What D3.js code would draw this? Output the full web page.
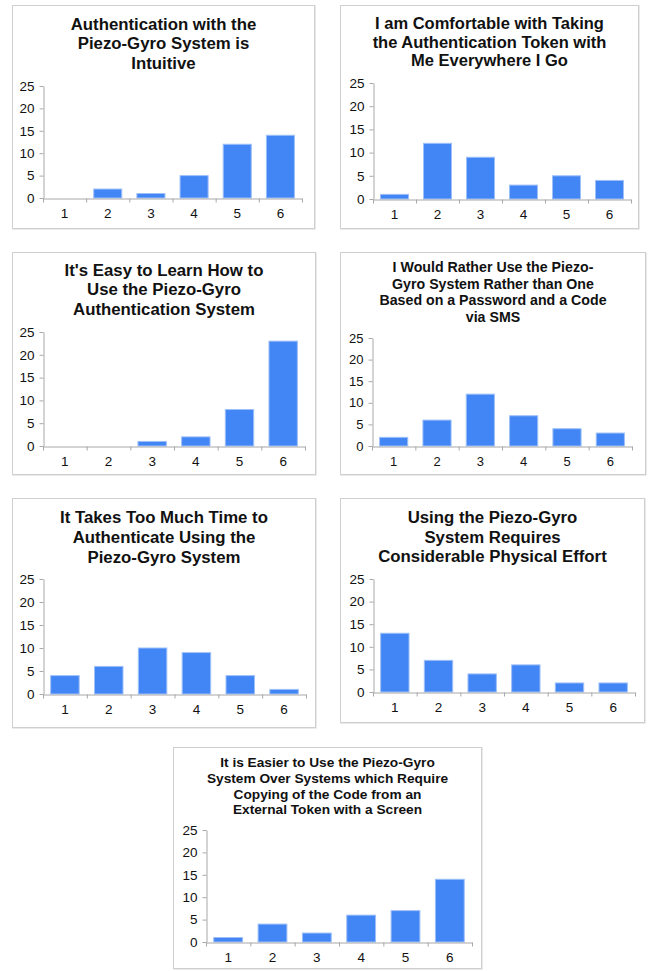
<!DOCTYPE html>
<html>
<head>
<meta charset="utf-8">
<script src="https://cdn.jsdelivr.net/npm/d3@7/dist/d3.min.js"></script>
<style>
  html, body { margin: 0; padding: 0; background: #fff; }
  svg { display: block; }
  text { font-family: "Liberation Sans", Arial, sans-serif; fill: #111; }
</style>
</head>
<body>
<svg id="chart" width="648" height="971"></svg>
<script>
// Likert responses (1–6) for each survey statement
const categories = ["1", "2", "3", "4", "5", "6"];
const yTicks = [0, 5, 10, 15, 20, 25];

const titleIntuitive = ["Authentication with the", "Piezo-Gyro System is", "Intuitive"];
const valuesIntuitive = [0, 2, 1, 5, 12, 14];

const titleToken = ["I am Comfortable with Taking", "the Authentication Token with", "Me Everywhere I Go"];
const valuesToken = [1, 12, 9, 3, 5, 4];

const titleLearn = ["It's Easy to Learn How to", "Use the Piezo-Gyro", "Authentication System"];
const valuesLearn = [0, 0, 1, 2, 8, 23];

const titleSms = ["I Would Rather Use the Piezo-", "Gyro System Rather than One", "Based on a Password and a Code", "via SMS"];
const valuesSms = [2, 6, 12, 7, 4, 3];

const titleTime = ["It Takes Too Much Time to", "Authenticate Using the", "Piezo-Gyro System"];
const valuesTime = [4, 6, 10, 9, 4, 1];

const titleEffort = ["Using the Piezo-Gyro", "System Requires", "Considerable Physical Effort"];
const valuesEffort = [13, 7, 4, 6, 2, 2];

const titleScreen = ["It is Easier to Use the Piezo-Gyro", "System Over Systems which Require", "Copying of the Code from an", "External Token with a Screen"];
const valuesScreen = [1, 4, 2, 6, 7, 14];

// Panel layout: frame box, plot area, title baselines and type sizes
const panels = [
  { title: titleIntuitive, values: valuesIntuitive, box: [12, 5, 314, 228],  plot: [43, 302, 86, 198],  lines: [30, 49.3, 68.5],  tSize: 16.8, tickSize: 13.5 },
  { title: titleToken,     values: valuesToken,     box: [340, 5, 638, 228], plot: [373, 631, 83, 199], lines: [29, 47.7, 66],    tSize: 16.5, tickSize: 13.5 },
  { title: titleLearn,     values: valuesLearn,     box: [12, 252, 315, 474], plot: [43, 305, 332, 446], lines: [275.7, 295, 314.7], tSize: 16.8, tickSize: 13.5 },
  { title: titleSms,       values: valuesSms,       box: [340, 252, 645, 474], plot: [372, 632, 338, 446], lines: [272.3, 289, 305.3, 321.5], tSize: 14.2, tickSize: 13 },
  { title: titleTime,      values: valuesTime,      box: [12, 498, 315, 727], plot: [43, 306, 579, 694], lines: [523.3, 543.3, 562.7], tSize: 16.8, tickSize: 13.5 },
  { title: titleEffort,    values: valuesEffort,    box: [340, 498, 644, 722], plot: [373, 635, 579, 692], lines: [523.3, 542.7, 561.7], tSize: 16.8, tickSize: 13.5 },
  { title: titleScreen,    values: valuesScreen,    box: [173, 747, 481, 968], plot: [206, 472, 830, 942], lines: [767.3, 783, 798.7, 814.3], tSize: 13.7, tickSize: 13.5 }
];

const svg = d3.select("#chart");
const axisColor = "#a8a8a8";

panels.forEach(p => {
  const g = svg.append("g");
  const [bx0, by0, bx1, by1] = p.box;
  const [px0, px1, pyTop, pyZero] = p.plot;

  // frame with soft drop shadow on right and bottom
  g.append("rect")
    .attr("x", bx0 + 1).attr("y", by0 + 1)
    .attr("width", bx1 - bx0).attr("height", by1 - by0)
    .attr("fill", "none").attr("stroke", "#e4e4e4").attr("stroke-width", 1.5);
  g.append("rect")
    .attr("x", bx0 + 0.5).attr("y", by0 + 0.5)
    .attr("width", bx1 - bx0).attr("height", by1 - by0)
    .attr("fill", "#fff").attr("stroke", "#cfcfcf").attr("stroke-width", 1);

  // title
  const title = g.append("text")
    .attr("text-anchor", "middle")
    .attr("font-weight", "bold")
    .attr("font-size", p.tSize)
    .attr("fill", "#000");
  p.title.forEach((line, i) => {
    title.append("tspan")
      .attr("x", (bx0 + bx1) / 2 + 0.5)
      .attr("y", p.lines[i])
      .text(line);
  });

  const x = d3.scaleBand().domain(categories).range([px0, px1])
    .paddingInner(0.35).paddingOuter(0.175);
  const y = d3.scaleLinear().domain([0, 25]).range([pyZero, pyTop]);

  // bars
  g.selectAll("rect.bar").data(p.values.map((v, i) => ({ c: categories[i], v })))
    .join("rect")
    .attr("class", "bar")
    .attr("x", d => x(d.c))
    .attr("width", x.bandwidth())
    .attr("y", d => y(d.v))
    .attr("height", d => pyZero - y(d.v))
    .attr("fill", "#4285f4")
    .attr("stroke", "#9ec0f8")
    .attr("stroke-width", d => d.v > 0 ? 1 : 0);

  // y axis
  const yAxis = g.append("g")
    .attr("transform", `translate(${px0 + 0.5},0)`)
    .call(d3.axisLeft(y).tickValues(yTicks).tickSize(4).tickSizeOuter(0).tickPadding(5));
  yAxis.select(".domain").attr("stroke", axisColor);
  yAxis.selectAll(".tick line").attr("stroke", axisColor);
  yAxis.selectAll(".tick text")
    .attr("font-size", p.tickSize)
    .attr("font-family", "Liberation Sans, Arial, sans-serif")
    .attr("fill", "#111");

  // x axis: ticks at category boundaries, labels at band centres
  const edges = d3.scaleLinear().domain([0, categories.length]).range([px0, px1]);
  const xAxis = g.append("g")
    .attr("transform", `translate(0,${pyZero + 0.5})`)
    .call(d3.axisBottom(edges).tickValues(d3.range(categories.length + 1))
      .tickSize(4).tickSizeOuter(0).tickFormat(""));
  xAxis.select(".domain").attr("stroke", axisColor);
  xAxis.selectAll(".tick line").attr("stroke", axisColor);

  g.selectAll("text.xlab").data(categories)
    .join("text")
    .attr("class", "xlab")
    .attr("x", d => x(d) + x.bandwidth() / 2)
    .attr("y", pyZero + 20)
    .attr("text-anchor", "middle")
    .attr("font-size", p.tickSize)
    .text(d => d);
});
</script>
</body>
</html>
